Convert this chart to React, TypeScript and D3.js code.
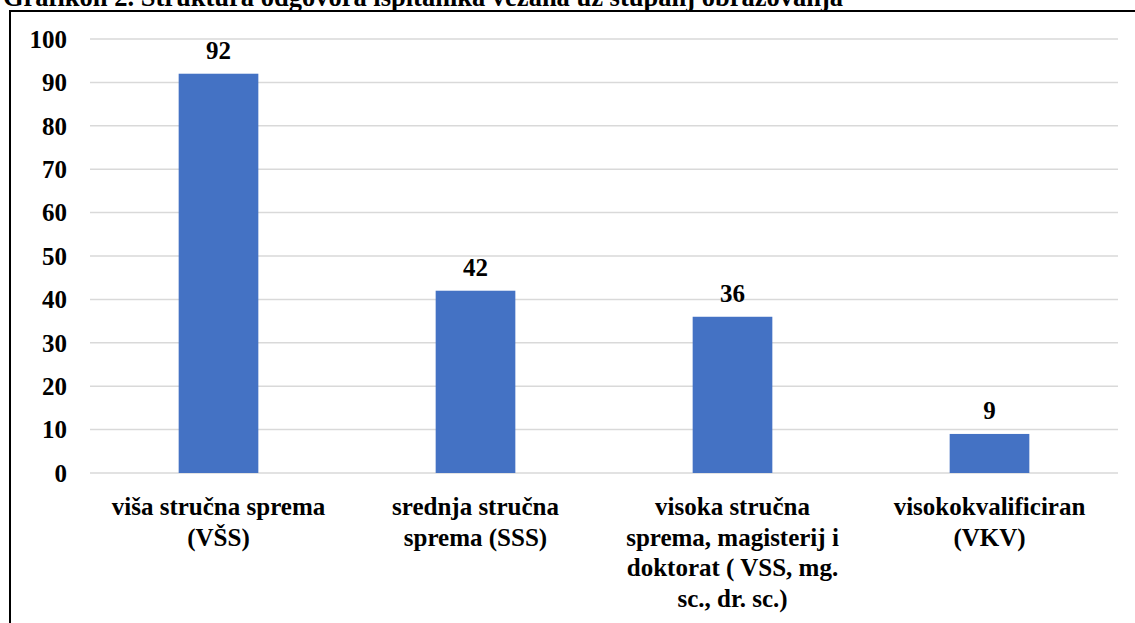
import { scaleBand, scaleLinear, range } from 'd3';

const width = 1135;
const height = 623;
const margin = { top: 39, right: 17, bottom: 150, left: 90 };

const title =
	'Grafikon 2. Struktura odgovora ispitanika vezana uz stupanj obrazovanja';
const categories = [
	['viša stručna sprema', '(VŠS)'],
	['srednja stručna', 'sprema (SSS)'],
	['visoka stručna', 'sprema, magisterij i', 'doktorat ( VSS, mg.', 'sc., dr. sc.)'],
	['visokokvalificiran', '(VKV)'],
];
const values = [92, 42, 36, 9];
const yTicks = range(0, 101, 10);

const font = '"Liberation Serif", "DejaVu Serif", serif';
const fs = 25;

const App = () => {
	const innerWidth = width - margin.left - margin.right;
	const innerHeight = 473 - margin.top;

	const xScale = scaleBand<number>()
		.domain(values.map((_, i) => i))
		.range([0, innerWidth])
		.paddingInner(0.69)
		.paddingOuter(0.345);

	const yScale = scaleLinear().domain([0, 100]).range([innerHeight, 0]);

	return (
		<svg
			width={width}
			height={height}
			style={{
				position: 'absolute',
				left: 0,
				top: 0,
				background: '#fff',
				fontFamily: font,
				fontWeight: 'bold',
			}}
		>
			<text x={3} y={6} fontSize={26.5}>
				{title}
			</text>
			<path d={`M10,${height} V11 H${width}`} fill="none" stroke="#000" strokeWidth={2} />
			<g transform={`translate(${margin.left},${margin.top})`}>
				{yTicks.map(t => (
					<g key={t} transform={`translate(0,${yScale(t)})`}>
						<line x2={innerWidth} stroke="#d9d9d9" strokeWidth={1.5} />
						<text x={-23} dy=".35em" textAnchor="end" fontSize={fs}>
							{t}
						</text>
					</g>
				))}
				{values.map((v, i) => {
					const x = xScale(i) as number;
					return (
						<g key={i}>
							<rect
								x={x}
								y={yScale(v)}
								width={xScale.bandwidth()}
								height={innerHeight - yScale(v)}
								fill="#4472c4"
							/>
							<text
								x={x + xScale.bandwidth() / 2}
								y={yScale(v) - 15}
								textAnchor="middle"
								fontSize={fs}
							>
								{v}
							</text>
						</g>
					);
				})}
				{categories.map((lines, i) => (
					<text
						key={i}
						x={(xScale(i) as number) + xScale.bandwidth() / 2}
						y={innerHeight + 42}
						textAnchor="middle"
						fontSize={fs}
					>
						{lines.map((l, j) => (
							<tspan key={j} x={(xScale(i) as number) + xScale.bandwidth() / 2} dy={j === 0 ? 0 : 30.5}>
								{l}
							</tspan>
						))}
					</text>
				))}
			</g>
		</svg>
	);
};

export default App;
